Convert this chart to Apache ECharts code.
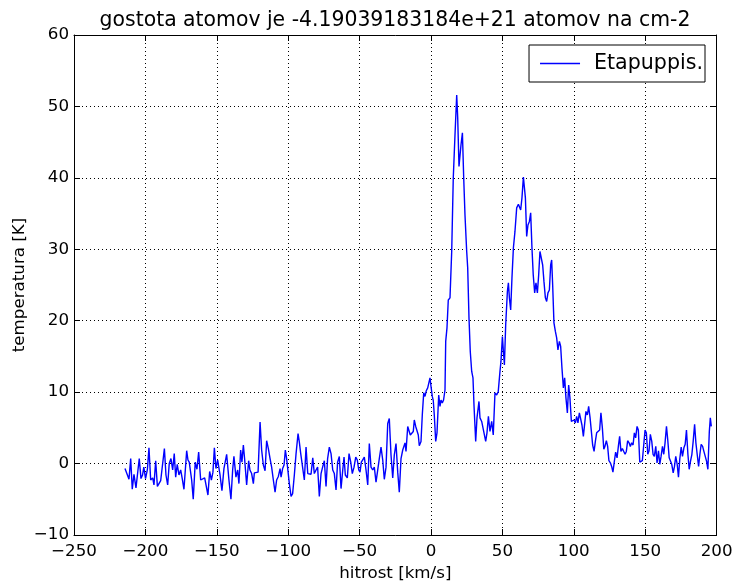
<!DOCTYPE html>
<html>
<head>
<meta charset="utf-8">
<script src="https://cdn.jsdelivr.net/npm/echarts@6/dist/echarts.min.js"></script>
<style>
html, body { margin: 0; padding: 0; background: #fff; }
#main { width: 735px; height: 581px; }
</style>
</head>
<body>
<div id="main"></div>
<script>
// hitrost [km/s]
var velocity = [
    -214.3, -213.6, -212.6, -211.5, -210.3, -209.2, -208.0, -206.6, -205.2, -204.3,
    -203.1, -202.0, -201.1, -199.9, -198.6, -197.5, -196.3, -194.9, -194.0, -192.8,
    -191.6, -190.5, -189.3, -187.9, -186.7, -185.6, -184.4, -183.3, -182.1, -180.9,
    -179.8, -178.8, -177.7, -176.5, -175.3, -174.2, -173.0, -171.1, -170.2, -169.3,
    -167.6, -166.5, -165.1, -163.9, -162.7, -161.3, -159.9, -158.5, -157.1, -156.2,
    -155.0, -153.8, -152.7, -151.7, -150.6, -149.4, -147.8, -146.4, -145.0, -143.1,
    -141.5, -140.1, -138.9, -138.0, -136.6, -135.4, -134.5, -133.3, -132.4, -131.4,
    -130.5, -129.1, -127.7, -126.8, -125.6, -124.4, -123.7, -122.5, -121.1,
    -119.7, -118.6, -117.4, -116.2, -115.1, -113.9, -112.7, -111.6, -110.4, -109.2,
    -108.1, -106.9, -105.7, -105.0, -103.9, -102.9, -102.0, -101.1, -100.1, -99.2,
    -98.0, -96.9, -95.7, -94.5, -93.1, -92.2, -91.3, -89.9, -88.7, -87.5,
    -86.3, -85.2, -84.0, -82.8, -81.7, -80.5, -79.4, -78.2, -77.0, -75.9,
    -74.7, -73.5, -72.4, -71.2, -70.0, -68.8, -67.7, -66.5, -65.4, -64.2,
    -63.0, -61.8, -60.9, -60.0, -58.6, -57.4, -56.2, -55.1, -53.9, -52.7,
    -51.6, -50.6, -49.7, -48.8, -47.6, -46.7, -45.5, -44.3, -43.2, -42.0,
    -40.8, -39.7, -38.5, -37.3, -36.2, -35.0, -33.8, -32.7, -31.5, -30.3,
    -29.2, -28.0, -26.8, -25.7, -24.5, -23.3, -22.2, -21.0, -19.8,
    -18.2, -17.5, -16.3, -15.4, -14.5, -13.5, -12.4, -11.7, -10.7, -9.8,
    -8.9, -8.2, -7.0, -6.1, -5.1, -4.2, -3.3, -2.3, -1.4, -0.7,
    0.0, 0.9, 1.6, 2.3, 3.3, 4.2, 5.4, 6.3, 7.0, 7.9,
    8.8, 9.8, 10.3, 11.2, 12.1, 13.3, 14.5, 15.6, 16.8, 18.0,
    18.7, 19.6, 21.0, 22.0, 22.9, 23.8, 25.0, 25.7, 26.6, 27.5,
    28.5, 29.4, 30.1, 31.3, 32.2, 33.6, 34.3, 35.5, 36.9, 38.3,
    39.2, 40.2, 41.3, 42.5, 43.6, 44.8, 46.0, 47.1,
    48.3, 49.0, 50.0, 50.7, 51.4, 52.3, 53.5, 54.2, 54.9, 55.8,
    56.7, 57.7, 58.8, 60.0, 61.2, 61.9, 62.8, 63.7, 64.7, 65.4,
    66.1, 67.0, 67.9, 68.9, 69.8, 70.7, 71.6, 72.6, 73.5, 74.5,
    75.4, 76.3, 77.3, 78.2, 79.1, 80.1, 81.0, 81.9, 82.9, 83.8,
    84.5, 85.2, 86.1, 87.1, 88.0, 88.9, 89.9, 90.8, 91.7, 92.7,
    93.6, 94.5, 95.5, 96.4, 97.3, 98.3, 99.2, 100.1, 101.1, 102.0,
    102.9, 103.9, 104.8, 105.7, 106.7, 107.6, 108.5, 109.5, 110.4, 111.4,
    112.3, 113.2, 114.2, 115.1, 116.0,
    117.2, 118.1, 119.0, 120.0, 121.0, 121.8, 122.8, 123.7, 124.6, 125.6,
    126.5, 127.4, 128.4, 129.3, 130.3, 131.2, 132.1, 133.0, 134.0, 134.9,
    135.9, 136.8, 137.7, 138.7, 139.6, 140.5, 141.5, 142.4, 143.3, 144.3,
    145.2, 146.2, 147.1, 148.0, 149.0, 149.9, 150.8, 151.8, 152.7, 153.6,
    154.6, 155.5, 156.4, 157.4, 158.3, 159.3, 160.2, 161.1, 162.1, 163.0,
    163.9, 164.9, 165.8, 166.8, 167.7, 168.6, 169.6, 170.5, 171.4, 172.4,
    173.3, 174.2, 175.2, 176.1, 177.1, 178.0, 178.9, 179.9, 180.8, 181.7,
    182.7, 183.6, 184.6, 185.5, 186.4, 187.4, 188.3, 189.2, 190.2, 191.1,
    192.1, 193.0, 193.9, 194.9, 195.6, 196.3
];

// temperatura [K]
var temperature = [
    -0.7, -0.5, -1.6, -2.2, 0.7, -3.6, -1.5, -3.4, -0.9, 0.7,
    -2.1, -1.6, -0.5, -2.1, -0.8, 2.2, -2.3, -2.0, -3.0, 0.4,
    -3.2, -3.4, -2.4, -2.3, 2.1, -1.6, -3.0, 0.0, 0.7, -0.9,
    1.4, -1.9, -0.1, -1.6, -0.9, -2.1, -3.6, 1.8, 0.5, 0.2,
    -2.3, -5.0, 0.2, -0.8, 1.6, -2.3, -2.1, -2.0, -2.2, -4.4,
    -1.1, -2.3, -1.2, 2.2, -0.7, 0.5, -1.5, -3.8, -0.7, 1.3,
    -2.3, -5.0, -0.9, 1.0, -1.9, -0.9, -2.8, 1.9, 0.2, 2.6,
    0.6, -3.0, 0.4, -0.9, -1.4, -2.8, -1.3, -1.2, -1.2,
    5.8, 1.9, -0.2, -1.0, 3.2, 2.1, 0.7, -0.5, -2.3, -4.0,
    -2.3, -1.8, -0.7, -1.9, -0.7, -0.2, 1.9, 0.7, 0.6, -2.8,
    -4.6, -4.2, -1.6, 1.4, 4.2, 3.0, 1.5, 1.3, -2.3, 2.3,
    -1.4, -1.6, -1.5, 0.8, -1.4, -0.9, -0.5, -4.6, -1.4, -0.5,
    0.4, -3.2, 0.7, 2.3, 1.4, -0.9, -1.4, -3.7, 0.2, 1.0,
    -3.5, -0.9, 0.9, -1.6, -2.0, 1.4, 0.2, -1.4, -0.5, 0.9,
    0.5, -0.9, -1.2, 0.2, 0.6, 0.9, -0.9, -3.0, 2.8, -0.5,
    -0.9, -0.5, -2.6, -2.8, 0.7, 2.3, 0.5, -2.2, -0.5, 5.6,
    6.3, 1.2, -2.0, 1.2, 2.8, -1.2, -4.0, 0.7, 1.9,
    2.9, 1.7, 5.2, 5.3, 4.0, 3.8, 4.5, 6.1, 5.2, 5.4,
    4.0, 2.5, 3.1, 6.8, 9.9, 9.4, 10.2, 10.6, 10.8, 12.0,
    10.8, 9.4, 8.8, 6.8, 3.1, 4.3, 9.6, 8.0, 8.9, 8.5,
    8.9, 10.3, 17.1, 19.0, 22.9, 23.2, 29.7, 40.0, 46.0, 51.6,
    48.4, 41.6, 44.6, 46.3, 40.0, 34.8, 29.7, 27.4, 20.4, 15.7,
    12.9, 12.0, 8.2, 3.1, 6.4, 8.7, 6.4, 5.9, 5.7, 3.1,
    4.3, 6.6, 4.5, 5.9, 4.0, 9.9, 9.6, 10.1,
    12.9, 14.3, 17.8, 15.7, 13.8, 19.4, 24.1, 25.3, 23.2, 21.5,
    26.0, 30.2, 32.5, 35.8, 36.3, 36.1, 35.5, 37.2, 40.1, 40.0,
    37.2, 31.8, 33.4, 33.9, 35.1, 30.2, 26.4, 23.9, 25.3, 23.9,
    26.4, 29.7, 29.9, 27.8, 25.5, 23.2, 22.7, 23.9, 24.3, 27.8,
    28.5, 25.0, 19.7, 18.5, 17.6, 15.9, 17.1, 16.4, 13.4, 10.6,
    12.0, 9.2, 7.1, 11.0, 9.2, 5.9, 5.7, 6.1, 5.7, 6.6,
    5.7, 7.1, 7.3, 5.4, 3.8, 3.6, 7.3, 6.8, 8.0, 6.4,
    4.5, 2.6, 1.7, 3.1, 4.3,
    4.5, 4.7, 7.1, 5.0, 2.0, 2.4, 3.2, 2.4, 0.4, 0.1,
    -0.4, -1.2, 0.3, 1.6, 0.8, 2.4, 3.8, 1.7, 2.1, 2.0,
    1.3, 1.7, 3.2, 2.9, 2.4, 2.9, 2.6, 4.3, 3.6, 5.2,
    4.7, 0.2, 0.1, 0.4, 0.6, 4.7, 4.3, 1.3, 1.8, 4.1,
    3.1, 1.3, 1.0, 2.4, 0.1, 1.8, -0.1, 1.0, 2.4, 1.3,
    2.9, 5.2, 3.3, 0.8, 1.0, -0.1, -1.3, -0.4, 1.0, -0.1,
    -1.9, 0.6, 2.3, 1.0, 2.2, 2.7, 4.7, 1.3, -0.8, 0.3,
    1.3, 3.1, 5.5, 2.9, 1.3, -0.4, 1.3, 2.7, 2.4, 1.7,
    1.5, 0.3, -0.8, 4.5, 6.4, 5.2
];

var titleText = 'gostota atomov je -4.19039183184e+21 atomov na cm-2';
var seriesName = 'Etapuppis.';
var xName = 'hitrost [km/s]';
var yName = 'temperatura [K]';

var xRange = [-250, 200, 50];
var yRange = [-10, 60, 10];

var chart = echarts.init(document.getElementById('main'));

var points = velocity.map(function (v, i) {
    return [v, temperature[i]];
});

var fontName = 'DejaVu Sans';

function minusSign(val) {
    return String(val).replace('-', '\u2212');
}

var frameLine = { show: true, onZero: false, lineStyle: { color: '#000', width: 1 } };
var innerTick = { show: true, inside: true, length: 6, lineStyle: { color: '#000', width: 1 } };
var gridLine = { show: true, lineStyle: { color: '#000', width: 1, type: [1, 3] } };

var option = {
    animation: false,
    backgroundColor: '#fff',
    title: {
        text: titleText,
        left: 395,
        top: 11,
        padding: 0,
        textAlign: 'center',
        textStyle: { fontFamily: fontName, fontSize: 20.4, fontWeight: 'normal', color: '#000' }
    },
    legend: {
        data: [seriesName],
        icon: 'rect',
        right: 30,
        top: 45,
        padding: [8, 2, 8, 11],
        itemWidth: 40,
        itemHeight: 1.5,
        borderColor: '#000',
        borderWidth: 1,
        borderRadius: 0,
        backgroundColor: '#fff',
        textStyle: { fontFamily: fontName, fontSize: 20.6, color: '#000', padding: [0, 0, 0, 9] }
    },
    grid: { left: 74, right: 18.4, top: 35, bottom: 46, containLabel: false, outerBoundsMode: 'none' },
    xAxis: [{
        type: 'value',
        position: 'bottom',
        min: xRange[0], max: xRange[1], interval: xRange[2],
        name: xName,
        nameLocation: 'middle',
        nameGap: 30,
        nameMoveOverlap: false,
        nameTextStyle: { fontFamily: fontName, fontSize: 16.7, color: '#000' },
        axisLine: frameLine,
        axisTick: innerTick,
        axisLabel: { margin: 8, fontFamily: fontName, fontSize: 16.7, color: '#000', formatter: minusSign },
        splitLine: gridLine
    }, {
        type: 'value',
        position: 'top',
        min: xRange[0], max: xRange[1], interval: xRange[2],
        axisLine: frameLine,
        axisTick: innerTick,
        axisLabel: { show: false },
        splitLine: { show: false }
    }],
    yAxis: [{
        type: 'value',
        position: 'left',
        min: yRange[0], max: yRange[1], interval: yRange[2],
        name: yName,
        nameLocation: 'middle',
        nameRotate: 90,
        nameGap: 46,
        nameMoveOverlap: false,
        nameTextStyle: { fontFamily: fontName, fontSize: 16.7, color: '#000' },
        axisLine: frameLine,
        axisTick: innerTick,
        axisLabel: { margin: 5, fontFamily: fontName, fontSize: 16.7, color: '#000', formatter: minusSign },
        splitLine: gridLine
    }, {
        type: 'value',
        position: 'right',
        min: yRange[0], max: yRange[1], interval: yRange[2],
        axisLine: frameLine,
        axisTick: innerTick,
        axisLabel: { show: false },
        splitLine: { show: false }
    }],
    series: [{
        name: seriesName,
        type: 'line',
        xAxisIndex: 0,
        yAxisIndex: 0,
        data: points,
        symbol: 'none',
        showSymbol: false,
        silent: true,
        lineStyle: { color: '#0000ff', width: 1.4 },
        itemStyle: { color: '#0000ff' }
    }]
};

chart.setOption(option);
</script>
</body>
</html>
